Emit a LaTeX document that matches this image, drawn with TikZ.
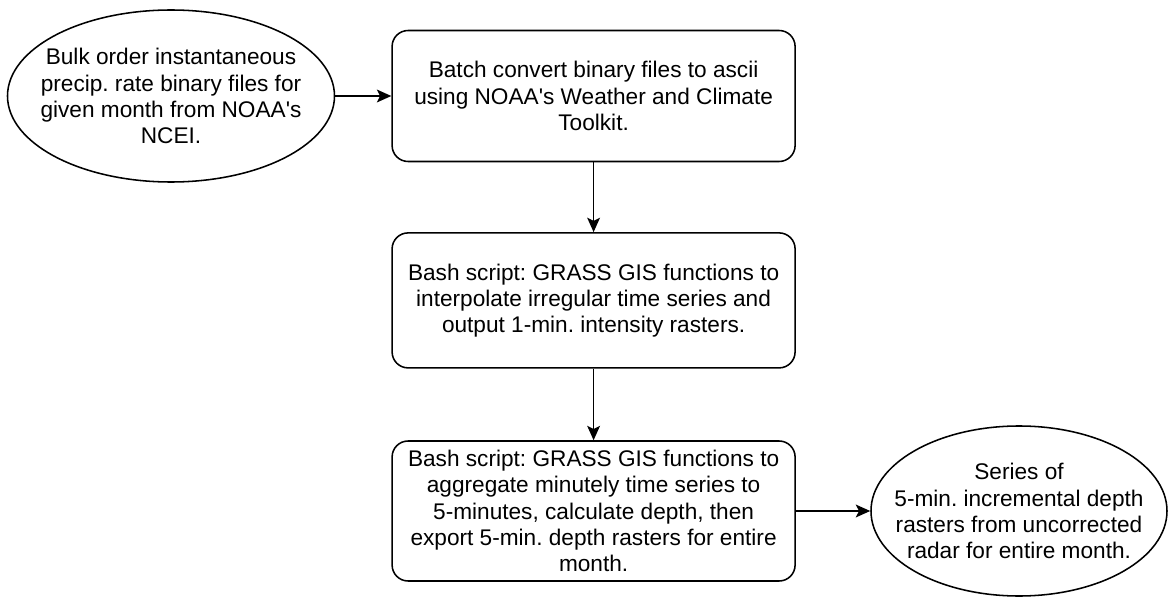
\documentclass[tikz,border=0pt]{standalone}
\usepackage{fontspec}
\setmainfont{Liberation Sans}
\usetikzlibrary{arrows.meta,shapes.geometric}
\frenchspacing

\begin{document}
\begin{tikzpicture}[
  font=\fontsize{16.1}{18.6}\selectfont,
  >={Stealth[length=0.36cm,width=0.32cm,inset=0.08cm]},
  terminal/.style={draw,ellipse,line width=1.1pt,inner xsep=-0.6cm,inner ysep=-0.3cm,align=center},
  process/.style={draw,rounded corners=0.4cm,line width=1.1pt,minimum width=10.075cm,inner sep=0pt,align=center},
  flow/.style={->,line width=1.1pt}
]
\useasboundingbox (0,0) rectangle (29.225,-14.925);

\node[terminal,minimum width=8.175cm,minimum height=4.3cm] (order) at (4.275,-2.4)
  {Bulk order instantaneous\\precip. rate binary files for\\given month from NOAA\textquotesingle s\\NCEI.};
\node[process,minimum height=3.275cm] (convert) at (14.84,-2.4)
  {Batch convert binary files to ascii\\using NOAA\textquotesingle s Weather and Climate\\Toolkit.};
\node[process,minimum height=3.375cm] (interp) at (14.84,-7.51)
  {Bash script: GRASS GIS functions to\\interpolate irregular time series and\\output 1-min. intensity rasters.};
\node[process,minimum height=3.5cm] (aggr) at (14.84,-12.775)
  {Bash script: GRASS GIS functions to\\aggregate minutely time series to\\5-minutes, calculate depth, then\\export 5-min. depth rasters for entire\\month.};
\node[terminal,minimum width=7.4cm,minimum height=4.25cm] (series) at (25.475,-12.775)
  {Series of\\5-min. incremental depth\\rasters from uncorrected\\radar for entire month.};

\draw[flow] (order) -- (convert);
\draw[flow] (convert) -- (interp);
\draw[flow] (interp) -- (aggr);
\draw[flow] (aggr) -- (series);
\end{tikzpicture}
\end{document}
